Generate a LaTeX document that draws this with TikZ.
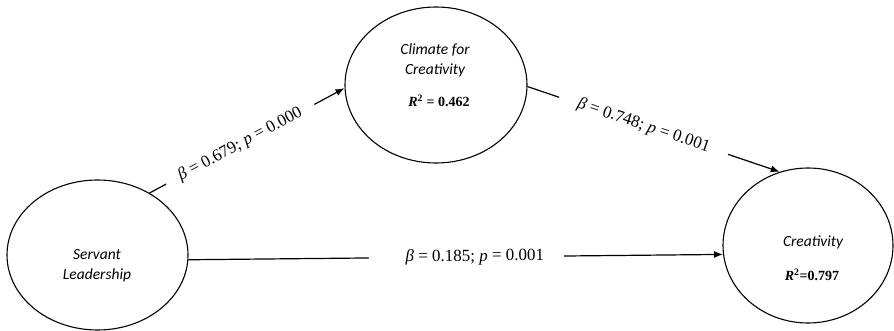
\documentclass[tikz,border=0pt]{standalone}
\usepackage{fontspec}
\setmainfont{Liberation Serif}
\newfontfamily\calib{Carlito}
\usetikzlibrary{shapes.geometric,arrows.meta}
\begin{document}
\begin{tikzpicture}[x=1pt,y=-1pt,
  latent/.style={draw, ellipse, line width=1.1pt, inner sep=0pt},
  nm/.style={font=\calib\itshape\fontsize{15.5}{20}\selectfont, align=center, inner sep=0pt},
  rsq/.style={font=\bfseries\fontsize{14}{16}\selectfont, inner sep=0pt},
  pathar/.style={line width=1.2pt, -{Latex[length=9pt,width=7pt]}},
  coef/.style={font=\fontsize{17}{20}\selectfont, fill=white, inner sep=0pt, sloped, minimum height=14pt}]

\useasboundingbox (0,0) rectangle (894,331);

\node[latent, minimum width=181pt, minimum height=150pt] (SL) at (97.5,255) {};
\node[latent, minimum width=182pt, minimum height=156pt] (CC) at (436,85) {};
\node[latent, minimum width=170pt, minimum height=155pt] (CR) at (808,245.5) {};

\node[nm] (SLt) at (97,266) {Servant\\Leadership};
\node[nm] (CCt) at (435,60) {Climate for\\Creativity};
\node[rsq] (CCr) at (439,101) {\textit{R}\textsuperscript{2} = 0.462};
\node[nm] (CRt) at (813,242) {Creativity};
\node[rsq] (CRr) at (812,275) {\textit{R}\textsuperscript{2}=0.797};

\draw[pathar] (SL.50) -- node[coef, pos=0.465, minimum width=168pt] {\textit{β} = 0.679; \textit{p} = 0.000} (CC.182);
\draw[pathar] (CC.-1) -- node[coef, pos=0.46, minimum width=178pt] {\textit{β} = 0.748; \textit{p} = 0.001} (CR.111);
\draw[pathar] (SL.-3) -- node[coef, pos=0.52, minimum width=195pt] {\hspace*{17pt}\textit{β} = 0.185; \textit{p} = 0.001} (CR.186);
\end{tikzpicture}
\end{document}
